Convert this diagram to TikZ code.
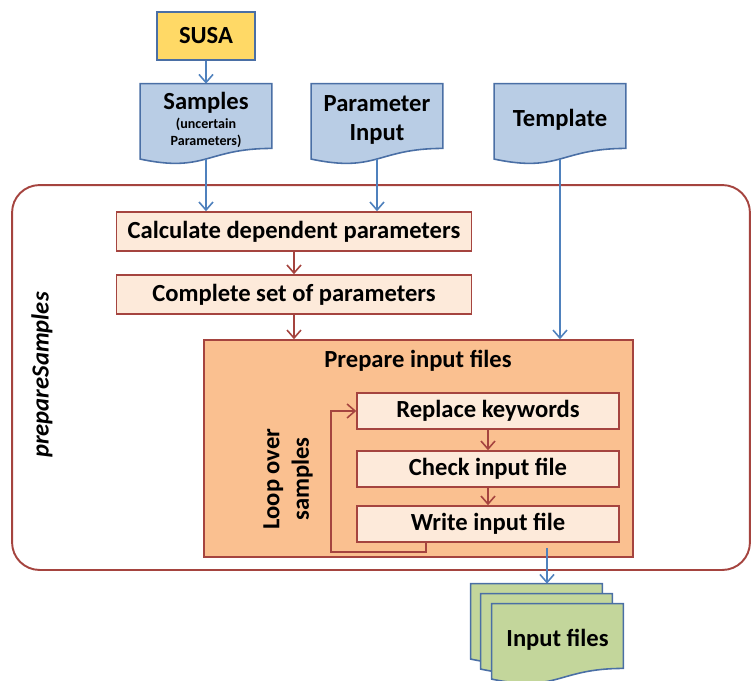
\documentclass[tikz,border=0pt]{standalone}
\usepackage{fontspec}
\setmainfont{Carlito}
\usetikzlibrary{arrows.meta,calc,backgrounds}

\definecolor{docblue}{HTML}{B9CDE5}
\definecolor{docline}{HTML}{4A6FA5}
\definecolor{susafill}{HTML}{FFD966}
\definecolor{filegreen}{HTML}{C3D69B}
\definecolor{darkred}{HTML}{A5443F}
\definecolor{prepfill}{HTML}{FAC090}
\definecolor{stepfill}{HTML}{FDEADA}
\definecolor{arrblue}{HTML}{4F81BD}

\newcommand{\bigf}{\fontsize{14}{16.8}\selectfont\bfseries}
\newcommand{\smallf}{\fontsize{8}{9.6}\selectfont\bfseries}

\tikzset{
  docnode/.style={minimum width=2.62cm, minimum height=1.44cm, inner sep=0pt, align=center, font=\bigf},
  bluedoc/.style={fill=docblue, draw=docline, line width=0.9pt},
  greendoc/.style={fill=filegreen, draw=docline, line width=0.9pt},
  susabox/.style={fill=susafill, draw=docline, line width=0.9pt, minimum width=1.96cm, minimum height=0.96cm, font=\bigf},
  stepbox/.style={fill=stepfill, draw=darkred, line width=0.9pt, inner sep=0pt, font=\bigf},
  prepbox/.style={fill=prepfill, draw=darkred, line width=0.9pt, minimum width=8.58cm, minimum height=4.34cm},
  outerbox/.style={draw=darkred, line width=1.1pt, rounded corners=0.55cm, minimum width=14.76cm, minimum height=7.7cm},
  bluearr/.style={draw=arrblue, line width=0.9pt, -{Straight Barb[length=1.6mm,width=2.8mm]}},
  redarr/.style={draw=darkred, line width=0.9pt, -{Straight Barb[length=1.6mm,width=2.8mm]}}
}

\begin{document}
\begin{tikzpicture}[x=0.02cm, y=-0.02cm]
\useasboundingbox (0,0) rectangle (751,680);

\node[outerbox] (outer) at (381,377.5) {};
\node[rotate=90, font=\bigf\itshape] (outerlbl) at (42,375) {prepareSamples};

\node[susabox] (susa) at (206,36) {SUSA};
\node[docnode] (samples) at (206,120) {Samples\\[-6pt]{\smallf (uncertain}\\[-7pt]{\smallf Parameters)}};
\node[docnode] (parin) at (377,120) {Parameter\\Input};
\node[docnode] (tmpl) at (560,120) {Template};

\node[stepbox, minimum width=7.1cm, minimum height=0.78cm] (calc) at (294,231.5) {Calculate dependent parameters};
\node[stepbox, minimum width=7.1cm, minimum height=0.78cm] (complete) at (294,294.5) {Complete set of parameters};

\node[prepbox] (prep) at (418.5,448.5) {};
\node[font=\bigf] (preptitle) at (418,361) {Prepare input files};
\node[stepbox, minimum width=5.24cm, minimum height=0.72cm] (replace) at (488,411) {Replace keywords};
\node[stepbox, minimum width=5.24cm, minimum height=0.72cm] (check) at (488,469) {Check input file};
\node[stepbox, minimum width=5.24cm, minimum height=0.72cm] (write) at (488,524) {Write input file};
\node[rotate=90, align=center, font=\bigf] (loop) at (288,479) {Loop over\\samples};

\node[docnode] (infA) at (536.5,620) {};
\node[docnode] (infB) at (546.5,630) {};
\node[docnode] (infC) at (557.5,640) {Input files};

\begin{scope}[on background layer]
\foreach \d in {samples,parin,tmpl}
  \filldraw[bluedoc] (\d.north west) -- (\d.north east) -- ($(\d.north east)!0.891!(\d.south east)$) .. controls ($(\d.north)!0.891!(\d.south)$) and ($(\d.north)!1.23!(\d.south)$) .. ($(\d.north west)!1.0375!(\d.south west)$) -- cycle;
\foreach \d in {infA,infB,infC}
  \filldraw[greendoc] (\d.north west) -- (\d.north east) -- ($(\d.north east)!0.891!(\d.south east)$) .. controls ($(\d.north)!0.891!(\d.south)$) and ($(\d.north)!1.23!(\d.south)$) .. ($(\d.north west)!1.0375!(\d.south west)$) -- cycle;
\end{scope}

\draw[bluearr] (susa) -- (samples);
\draw[bluearr] ([yshift=-0.05cm]samples.south) -- (samples.south |- calc.north);
\draw[bluearr] ([yshift=-0.05cm]parin.south) -- (parin.south |- calc.north);
\draw[bluearr] ([yshift=-0.05cm]tmpl.south) -- (tmpl.south |- prep.north);

\draw[redarr] (calc) -- (complete);
\draw[redarr] (complete.south) -- (complete.south |- prep.north);
\draw[redarr] (replace) -- (check);
\draw[redarr] (check) -- (write);
\draw[redarr] ([xshift=1.4cm]write.south west) -- ++(0,-0.18cm) -| ([xshift=-0.5cm]replace.west) -- (replace.west);

\coordinate (outtop) at ([xshift=0.21cm]infA.north);
\draw[bluearr] ([yshift=0.2cm]prep.south -| outtop) -- (outtop);
\end{tikzpicture}
\end{document}
